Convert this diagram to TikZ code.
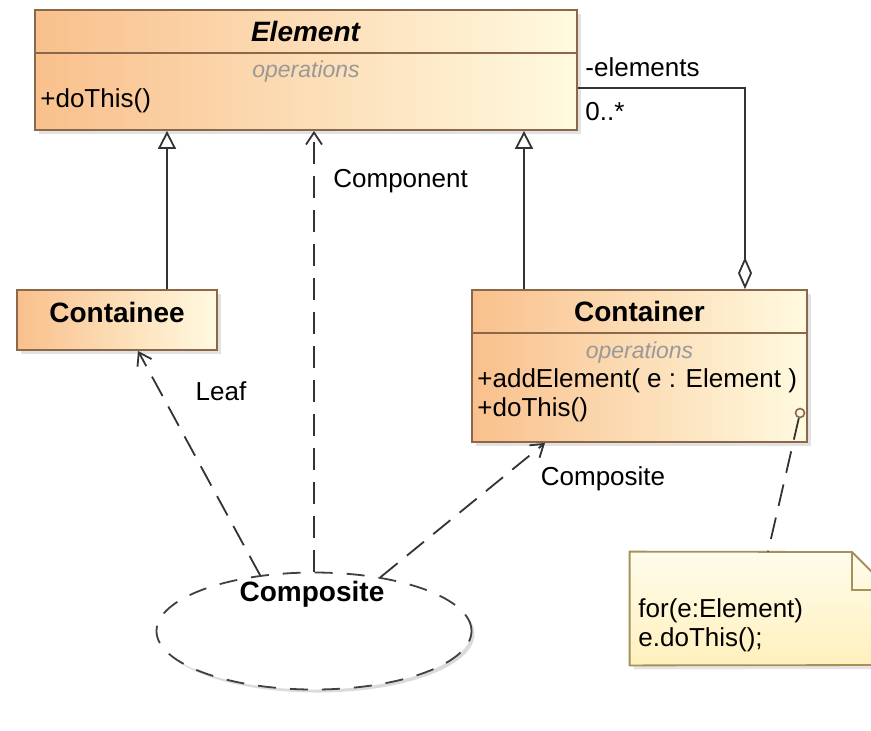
\documentclass[tikz,border=0pt]{standalone}
\usepackage{fontspec}
\setmainfont{Liberation Sans}
\usetikzlibrary{arrows.meta,shadows,shapes.geometric,positioning}

\definecolor{umlorange}{RGB}{249,192,140}
\definecolor{umlcream}{RGB}{255,250,224}
\definecolor{umlborder}{RGB}{140,104,74}
\definecolor{noteyellow}{RGB}{255,240,188}
\definecolor{notelight}{RGB}{255,252,236}
\definecolor{noteborder}{RGB}{165,145,90}

\tikzset{
	classbox/.style={draw=umlborder, line width=0.9pt, left color=umlorange, right color=umlcream,
		drop shadow={shadow xshift=2pt, shadow yshift=-2pt, fill=gray!45}, inner sep=0pt},
	classname/.style={font=\fontsize{14}{16}\selectfont\bfseries},
	opslabel/.style={font=\fontsize{11.5}{13}\selectfont\itshape, text=gray!80},
	member/.style={font=\fontsize{13}{15}\selectfont, anchor=west, inner sep=0pt},
	edgelabel/.style={font=\fontsize{13}{15}\selectfont, inner sep=1pt},
	gen/.style={draw=black!80, line width=0.9pt, -{Triangle[open, length=9pt, width=9pt, fill=white]}},
	agg/.style={draw=black!80, line width=0.9pt, -{Diamond[open, length=16pt, width=7pt, fill=white]}},
	dep/.style={draw=black!80, line width=0.9pt, dash pattern=on 11pt off 6pt, -{Straight Barb[length=6pt, width=8pt]}},
	collab/.style={ellipse, draw=black!75, line width=0.9pt, fill=white, dash pattern=on 9pt off 7pt,
		drop shadow={shadow xshift=1.5pt, shadow yshift=-1.5pt, fill=gray!55}},
	notebox/.style={inner sep=0pt}
}

\begin{document}
\begin{tikzpicture}[x=0.5pt, y=-0.5pt]
	\useasboundingbox[fill=white] (0,0) rectangle (871,730);

	% classes
	\node[classbox, minimum width=271pt, minimum height=60pt] (element) at (306,70) {};
	\draw[umlborder, line width=0.9pt] (35,53) -- (577,53);
	\node[classname] (elementname) at (306,31) {\textit{Element}};
	\node[opslabel] (elementops) at (306,72) {operations};
	\node[member] (elementdo) at (40,101) {+doThis()};

	\node[classbox, minimum width=100pt, minimum height=30pt] (containee) at (117,320) {};
	\node[classname] (containeename) at (117,312) {Containee};

	\node[classbox, minimum width=167.5pt, minimum height=76pt] (container) at (639.5,366) {};
	\draw[umlborder, line width=0.9pt] (472,333) -- (807,333);
	\node[classname] (containername) at (639.5,311) {Container};
	\node[opslabel] (containerops) at (639.5,353) {operations};
	\node[member] (containeradd) at (477,381) {+addElement( e : Element )};
	\node[member] (containerdo) at (477,410) {+doThis()};
	\node[circle, draw=umlborder, line width=0.8pt, inner sep=0pt, minimum size=4.5pt] (noteanchor) at (800,413) {};

	% collaboration
	\node[collab, minimum width=157.5pt, minimum height=58.5pt] (composite) at (314,631) {};
	\node[classname] (compositename) at (312,594) {Composite};

	% note
	\node[notebox, minimum width=130pt, minimum height=56.5pt] (note) at (760,608.5) {};
	\draw[noteborder, line width=0.9pt, top color=notelight, bottom color=noteyellow,
		drop shadow={shadow xshift=2pt, shadow yshift=-2pt, fill=gray!40}]
		(note.north west) -- (852,552) -- (890,590) -- (note.east |- 0,665) -- (note.south west) -- cycle;
	\draw[noteborder, line width=0.9pt] (852,552) -- (852,590) -- (890,590);
	\node[member] (noteline1) at (638,611) {for(e:Element)};
	\node[member] (noteline2) at (638,640) {e.doThis();};

	% relations
	\draw[gen] ([xshift=25pt]containee.north) -- ([xshift=25pt]containee.north |- element.south);
	\draw[gen] ([xshift=-57.75pt]container.north) -- ([xshift=-57.75pt]container.north |- element.south);
	\draw[agg] ([yshift=-9pt]element.east) -| ([xshift=52.75pt]container.north);
	\node[edgelabel, anchor=west] (elementsrole) at (583,67) {-elements};
	\node[edgelabel, anchor=west] (elementsmult) at (583,112) {0..*};

	\draw[dep] (composite.north) -- (composite.north |- element.south);
	\draw[dep] (composite.134) -- ([xshift=10.5pt]containee.south);
	\draw[dep] (composite.39) -- ([xshift=-47.25pt]container.south);
	\draw[draw=black!80, line width=0.9pt, dash pattern=on 11pt off 6pt] (noteanchor) -- ([xshift=4pt]note.north);

	\node[edgelabel, anchor=west] (componentlabel) at (331,181) {Component};
	\node[edgelabel] (leaflabel) at (221,391) {Leaf};
	\node[edgelabel] (compositelabel) at (603,479) {Composite};
\end{tikzpicture}
\end{document}
